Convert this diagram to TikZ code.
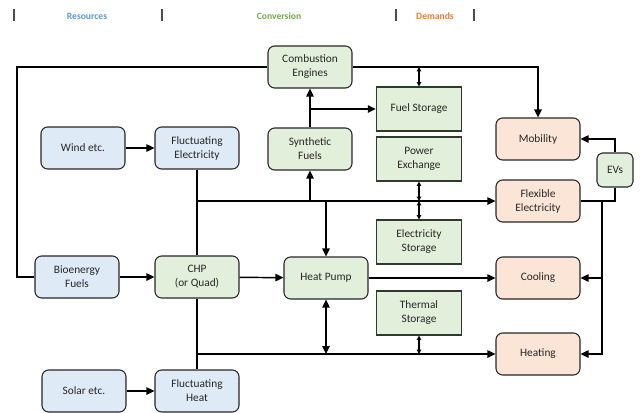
\documentclass[tikz,border=0pt]{standalone}
\usepackage{fontspec}
\setmainfont{Carlito}
\usetikzlibrary{arrows.meta}
\definecolor{resblue}{HTML}{DEEBF7}
\definecolor{convgreen}{HTML}{E2EFDA}
\definecolor{demorange}{HTML}{FBE5D6}
\definecolor{hdblue}{HTML}{5B9BD5}
\definecolor{hdgreen}{HTML}{70AD47}
\definecolor{hdorange}{HTML}{ED7D31}
\definecolor{edge}{HTML}{262626}
\definecolor{storeedge}{HTML}{2E3B2B}
\begin{document}
\begin{tikzpicture}[x=0.75pt,y=-0.75pt,
  txt/.style={font=\fontsize{8.5pt}{10.5pt}\selectfont, text=edge, align=center},
  box/.style={txt, draw=edge, line width=0.8pt, rounded corners=5pt, minimum width=63pt, minimum height=31.5pt, inner sep=1pt},
  res/.style={box, fill=resblue},
  conv/.style={box, fill=convgreen},
  dem/.style={box, fill=demorange},
  store/.style={txt, draw=storeedge, line width=0.8pt, fill=convgreen, minimum width=64pt, minimum height=33pt, inner sep=1pt},
  hd/.style={font=\fontsize{7.2pt}{8pt}\selectfont\bfseries},
  bar/.style={draw=black!70, line width=0.8pt},
  ln/.style={draw=black, line width=1.1pt},
  thick loop/.style={draw=black, line width=1.6pt},
  arr/.style={ln, -{Triangle[length=6pt,width=5.5pt]}},
  dblarr/.style={ln, {Triangle[length=6pt,width=5.5pt]}-{Triangle[length=6pt,width=5.5pt]}},
  dbl/.style={draw=black, line width=0.8pt, {Triangle[length=3.2pt,width=3.2pt]}-{Triangle[length=3.2pt,width=3.2pt]}}
]
\useasboundingbox (0,0) rectangle (640,412);

% header
\draw[bar] (14,9) -- (14,21);
\draw[bar] (162,9) -- (162,21);
\draw[bar] (396,9) -- (396,21);
\draw[bar] (474,9) -- (474,21);
\node[hd, text=hdblue] (hres) at (87,16) {Resources};
\node[hd, text=hdgreen] (hconv) at (279,16) {Conversion};
\node[hd, text=hdorange] (hdem) at (435,16) {Demands};

% resources
\node[res] (wind) at (83,148) {Wind etc.};
\node[res] (fel) at (197,148) {Fluctuating\\Electricity};
\node[res] (bio) at (77,277) {Bioenergy\\Fuels};
\node[res] (solar) at (84,391) {Solar etc.};
\node[res] (fh) at (197,391) {Fluctuating\\Heat};

% conversion
\node[conv] (comb) at (310,67) {Combustion\\Engines};
\node[conv] (syn) at (310,149) {Synthetic\\Fuels};
\node[conv] (chp) at (197,277) {CHP\\(or Quad)};
\node[conv] (hp) at (326,278) {Heat Pump};
\node[box, fill=convgreen, minimum width=27pt, minimum height=25.5pt, rounded corners=4pt] (evs) at (615,170) {EVs};

% storage
\node[store] (fuel) at (419,109) {Fuel Storage};
\node[store] (pex) at (419,159) {Power\\Exchange};
\node[store] (est) at (419,242) {Electricity\\Storage};
\node[store] (ts) at (419,313) {Thermal\\Storage};

% demands
\node[dem] (mob) at (538,139) {Mobility};
\node[dem] (flex) at (538,201) {Flexible\\Electricity};
\node[dem] (cool) at (538,278) {Cooling};
\node[dem] (heat) at (538,354) {Heating};

% resources arrows
\draw[arr] (wind) -- (fel);
\draw[arr] (bio) -- (chp);
\draw[arr] (solar) -- (fh);

% big loop
\coordinate (lc) at (17,277);
\draw[thick loop] (bio.west) -- (lc) |- (comb.west);
\draw[thick loop, -{Triangle[length=6pt,width=5.5pt]}] (comb.east) -| (mob.north);
\draw[dbl] (fuel.north) -- (fuel.north |- comb.east);

% synthetic fuels
\draw[arr] (syn.north) -- (comb.south);
\draw[arr] (syn.north |- fuel.west) -- (fuel.west);

% electricity bus
\coordinate (eb) at (fel.south |- flex.west);
\draw[ln] (fel.south) -- (chp.north);
\draw[arr] (eb) -- (flex.west);
\draw[arr] (syn.south |- eb) -- (syn.south);
\draw[arr] (hp.north |- eb) -- (hp.north);
\draw[dbl] (pex.south) -- (pex.south |- eb);
\draw[dbl] (pex.south |- eb) -- (est.north);

% heat
\draw[arr] (chp) -- (hp);
\draw[arr] (hp) -- (cool);
\draw[ln] (chp.south) -- (fh.north);
\draw[arr] (chp.south |- heat.west) -- (heat.west);
\draw[dblarr] (hp.south) -- (hp.south |- heat.west);
\draw[dbl] (ts.south) -- (ts.south |- heat.west);

% right side
\coordinate (rb) at (602,201);
\draw[arr] (flex.east) -- (rb) |- (heat.east);
\draw[arr] (rb |- cool.east) -- (cool.east);
\draw[ln] (rb) -| (evs.south);
\draw[arr] (evs.north) |- (mob.east);
\end{tikzpicture}
\end{document}
